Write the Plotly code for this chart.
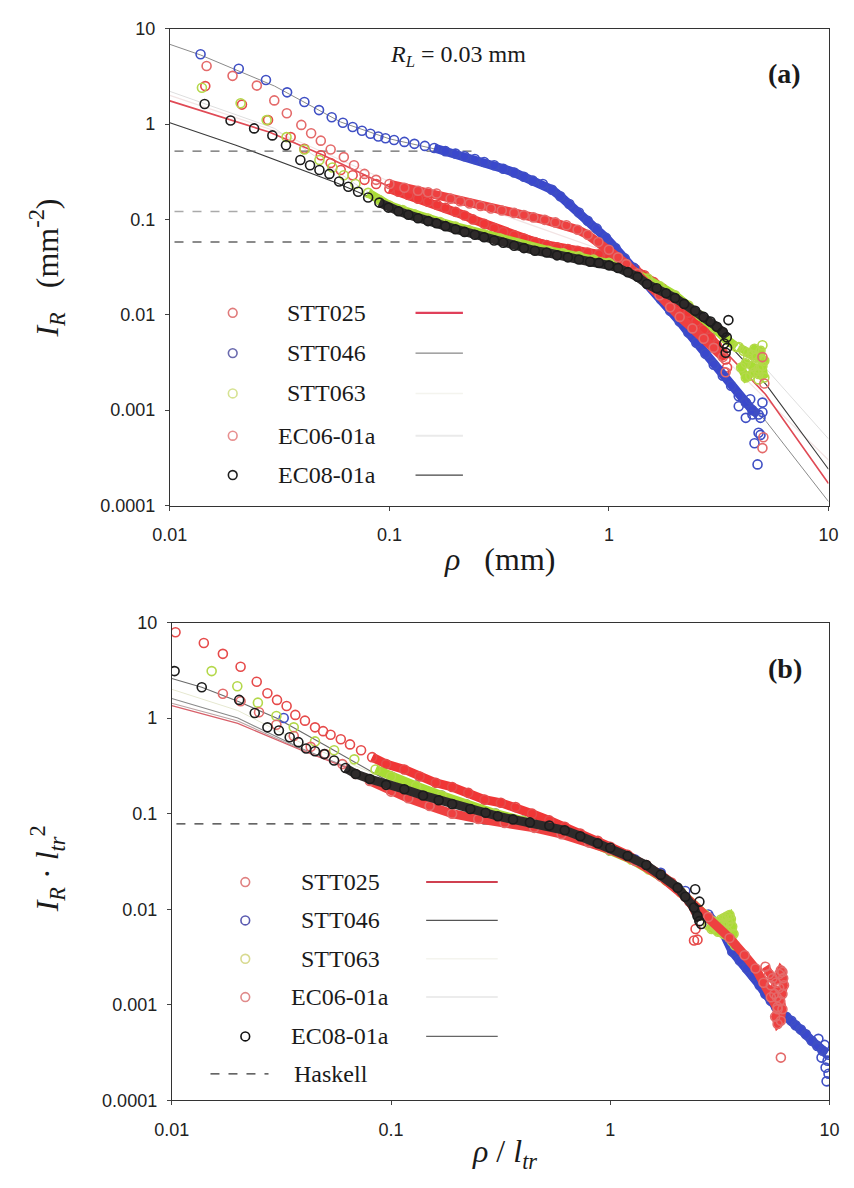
import plotly.graph_objects as go

W, H = 854, 1188

# ================= Panel (a): I_R (mm^-2) vs rho (mm) =================
a_stt025_x = [0.0145, 0.0213, 0.028, 0.0355, 0.041, 0.0487, 0.054, 0.06, 0.068, 0.077, 0.087, 0.1, 0.11, 0.122, 0.135, 0.15, 0.165, 0.18, 0.2, 0.22, 0.24, 0.27, 0.3, 0.33, 0.37, 0.41, 0.46, 0.52, 0.58, 0.65, 0.72, 0.8, 0.9, 1.0, 1.1, 1.2, 1.32, 1.45, 1.6, 1.75, 1.9, 2.1, 2.3, 2.5, 2.7, 2.9, 3.1, 3.3, 3.4]
a_stt025_y = [2.5, 1.6, 1.1, 0.73, 0.55, 0.47, 0.39, 0.33, 0.29, 0.26, 0.235, 0.21, 0.195, 0.18, 0.165, 0.153, 0.142, 0.132, 0.12, 0.11, 0.1, 0.09, 0.081, 0.074, 0.068, 0.063, 0.058, 0.054, 0.051, 0.049, 0.047, 0.045, 0.043, 0.041, 0.038, 0.034, 0.03, 0.026, 0.022, 0.019, 0.016, 0.013, 0.0105, 0.0085, 0.007, 0.0058, 0.0048, 0.004, 0.0034]
a_stt025_ex = [3.35, 3.45]
a_stt025_ey = [0.0025, 0.0028]

a_stt046_x = [0.0138, 0.0206, 0.0274, 0.0342, 0.041, 0.0478, 0.0546, 0.0614, 0.068, 0.075, 0.082, 0.089, 0.096, 0.105, 0.117, 0.13, 0.145, 0.16, 0.18, 0.2, 0.22, 0.245, 0.27, 0.3, 0.33, 0.37, 0.41, 0.45, 0.5, 0.55, 0.6, 0.66, 0.73, 0.8, 0.88, 0.97, 1.07, 1.18, 1.3, 1.43, 1.57, 1.73, 1.9, 2.1, 2.3, 2.5, 2.75, 3.0, 3.3, 3.6, 3.9, 4.2, 4.5, 4.8]
a_stt046_y = [5.4, 3.8, 2.9, 2.15, 1.7, 1.4, 1.18, 1.03, 0.93, 0.85, 0.79, 0.74, 0.71, 0.68, 0.65, 0.62, 0.59, 0.56, 0.52, 0.49, 0.46, 0.43, 0.40, 0.37, 0.34, 0.31, 0.28, 0.255, 0.235, 0.205, 0.175, 0.145, 0.118, 0.097, 0.08, 0.064, 0.05, 0.039, 0.031, 0.024, 0.019, 0.0145, 0.011, 0.0085, 0.0065, 0.0051, 0.0039, 0.003, 0.0023, 0.0018, 0.0014, 0.0012, 0.001, 0.0009]
a_stt046_ex = [3.9, 4.2, 4.5, 4.9, 4.9, 4.8, 4.6, 4.75, 5.0, 5.0, 4.4]
a_stt046_ey = [0.0011, 0.00083, 0.0009, 0.00083, 0.00055, 0.00058, 0.00045, 0.00027, 0.0012, 0.00095, 0.0013]

a_stt063_x = [0.014, 0.021, 0.0276, 0.034, 0.041, 0.048, 0.055, 0.062, 0.07, 0.08, 0.09, 0.1, 0.115, 0.13, 0.15, 0.17, 0.2, 0.23, 0.27, 0.32, 0.38, 0.45, 0.53, 0.62, 0.73, 0.85, 1.0, 1.15, 1.3, 1.5, 1.7, 2.0, 2.3, 2.6, 3.0, 3.4, 3.8]
a_stt063_y = [2.4, 1.65, 1.1, 0.73, 0.54, 0.42, 0.35, 0.29, 0.235, 0.19, 0.16, 0.14, 0.125, 0.113, 0.102, 0.094, 0.084, 0.077, 0.07, 0.063, 0.056, 0.05, 0.047, 0.044, 0.041, 0.038, 0.035, 0.032, 0.028, 0.024, 0.02, 0.016, 0.0125, 0.0098, 0.0074, 0.0056, 0.0046]
# lime patch at the far end (drawn as a filled cluster)
a_stt063_px = [3.9, 4.1, 4.3, 4.5, 4.7, 4.9, 5.1, 5.0, 4.8, 4.6, 4.4, 4.2, 4.0, 4.2, 4.5, 4.8, 5.1, 4.9, 4.6, 4.3]
a_stt063_py = [0.0046, 0.0042, 0.0040, 0.0038, 0.0036, 0.0034, 0.0033, 0.0029, 0.0027, 0.0025, 0.0023, 0.0022, 0.0028, 0.0031, 0.0029, 0.0024, 0.0022, 0.0042, 0.0044, 0.0035]
a_stt063_ex = [5.0, 4.8]
a_stt063_ey = [0.0048, 0.0021]

a_ec0601_x = [0.0147, 0.0193, 0.0249, 0.0299, 0.0341, 0.0397, 0.044, 0.0487, 0.054, 0.062, 0.069, 0.077, 0.087, 0.1, 0.117, 0.135, 0.15, 0.164, 0.19, 0.21, 0.232, 0.26, 0.29, 0.325, 0.37, 0.41, 0.453, 0.51, 0.57, 0.64, 0.72, 0.8, 0.895, 1.0, 1.1, 1.2, 1.35, 1.5, 1.7, 1.9, 2.1, 2.4, 2.7, 3.0, 3.3]
a_ec0601_y = [4.06, 3.2, 2.53, 1.77, 1.30, 0.98, 0.8, 0.67, 0.54, 0.45, 0.37, 0.30, 0.26, 0.235, 0.215, 0.2, 0.193, 0.187, 0.165, 0.155, 0.147, 0.138, 0.13, 0.124, 0.117, 0.111, 0.105, 0.099, 0.093, 0.087, 0.078, 0.069, 0.058, 0.048, 0.04, 0.034, 0.027, 0.021, 0.016, 0.012, 0.0095, 0.0072, 0.0056, 0.0045, 0.0036]
a_ec0601_ex = [3.4, 5.0, 5.1, 5.05, 5.0]
a_ec0601_ey = [0.0025, 0.0036, 0.0019, 0.00052, 0.0004]

a_ec0801_x = [0.0144, 0.0189, 0.0242, 0.0293, 0.0338, 0.0393, 0.0435, 0.048, 0.0533, 0.059, 0.065, 0.072, 0.08, 0.09, 0.099, 0.11, 0.122, 0.135, 0.15, 0.164, 0.18, 0.2, 0.22, 0.245, 0.27, 0.3, 0.33, 0.37, 0.41, 0.46, 0.52, 0.58, 0.65, 0.73, 0.82, 0.9, 1.0, 1.1, 1.22, 1.35, 1.49, 1.65, 1.82, 2.0, 2.2, 2.47, 2.7, 2.9, 3.1, 3.3, 3.44]
a_ec0801_y = [1.62, 1.09, 0.90, 0.76, 0.60, 0.42, 0.37, 0.33, 0.30, 0.25, 0.22, 0.195, 0.17, 0.15, 0.133, 0.122, 0.112, 0.103, 0.096, 0.091, 0.085, 0.079, 0.074, 0.069, 0.065, 0.06, 0.057, 0.053, 0.05, 0.047, 0.045, 0.042, 0.04, 0.038, 0.036, 0.035, 0.033, 0.031, 0.028, 0.025, 0.021, 0.019, 0.0168, 0.015, 0.013, 0.011, 0.0095, 0.0085, 0.0075, 0.0066, 0.0058]
a_ec0801_ex = [3.5, 3.45, 3.4, 3.35]
a_ec0801_ey = [0.0088, 0.0045, 0.004, 0.005]

# fitted curves (a)
a_fit_stt025_x = [0.01, 0.0285, 0.05, 0.1, 0.3, 1.0, 2.0, 3.0, 5.17, 10]
a_fit_stt025_y = [1.75, 0.82, 0.47, 0.22, 0.085, 0.038, 0.014, 0.0055, 0.00146, 0.00017]
a_fit_stt046_x = [0.01, 0.0138, 0.03, 0.06, 0.1, 0.2, 0.3, 0.5, 0.8, 1.0, 1.5, 2.0, 3.0, 5.2, 10]
a_fit_stt046_y = [6.85, 5.3, 2.5, 1.05, 0.7, 0.49, 0.37, 0.235, 0.097, 0.062, 0.021, 0.0095, 0.0032, 0.00076, 0.00011]
a_fit_stt063_x = [0.01, 0.03, 0.07, 0.1, 0.2, 0.45, 1.0, 2.0, 3.0, 5.0, 10]
a_fit_stt063_y = [2.2, 0.9, 0.235, 0.14, 0.084, 0.05, 0.035, 0.016, 0.0074, 0.003, 0.0005]
a_fit_ec0601_x = [0.01, 0.03, 0.1, 0.3, 1.0, 3.0, 10]
a_fit_ec0601_y = [2.0, 0.85, 0.25, 0.12, 0.045, 0.0045, 0.0003]
a_fit_ec0801_x = [0.01, 0.02, 0.058, 0.1, 0.3, 1.0, 2.0, 3.0, 5.2, 10]
a_fit_ec0801_y = [1.03, 0.6, 0.24, 0.14, 0.06, 0.034, 0.015, 0.0072, 0.00185, 0.00024]

# Haskell (a)
a_hask1_x = [0.0105, 0.26]
a_hask1_y = [0.52, 0.52]
a_hask2_x = [0.0105, 0.10]
a_hask2_y = [0.121, 0.121]
a_hask3_x = [0.0105, 0.24]
a_hask3_y = [0.058, 0.058]

# ================= Panel (b): I_R * l_tr^2 vs rho / l_tr =================
b_stt025_x = [0.0104, 0.014, 0.0171, 0.0206, 0.0244, 0.0273, 0.0302, 0.0334, 0.0366, 0.0405, 0.045, 0.049, 0.053, 0.059, 0.065, 0.073, 0.082, 0.095, 0.115, 0.135, 0.16, 0.19, 0.225, 0.267, 0.317, 0.37, 0.44, 0.527, 0.62, 0.73, 0.877, 1.0, 1.2, 1.46, 1.7, 1.9, 2.1, 2.3, 2.45]
b_stt025_y = [7.9, 6.1, 4.7, 3.45, 2.4, 1.82, 1.55, 1.34, 1.08, 0.94, 0.80, 0.73, 0.67, 0.6, 0.53, 0.46, 0.39, 0.33, 0.29, 0.245, 0.21, 0.19, 0.165, 0.14, 0.13, 0.117, 0.1, 0.085, 0.073, 0.062, 0.052, 0.045, 0.037, 0.029, 0.023, 0.019, 0.015, 0.012, 0.0095]
b_stt025_ex = [2.41, 2.5, 2.45]
b_stt025_ey = [0.0047, 0.0048, 0.0062]

b_stt046_x = [0.0324, 0.1, 0.13, 0.17, 0.22, 0.3, 0.4, 0.55, 0.75, 1.0, 1.3, 1.7, 2.2, 2.8, 3.3, 3.6, 3.9, 4.2, 4.5, 4.8, 5.1, 5.4, 5.7, 6.0, 6.35, 6.7, 7.0, 7.4, 7.8, 8.3, 8.8, 9.3, 9.7]
b_stt046_y = [1.0, 0.245, 0.195, 0.155, 0.125, 0.1, 0.084, 0.068, 0.054, 0.041, 0.033, 0.024, 0.0155, 0.0088, 0.0055, 0.0036, 0.0029, 0.0024, 0.002, 0.0016, 0.0013, 0.0011, 0.00095, 0.00082, 0.00075, 0.00068, 0.00061, 0.00055, 0.00049, 0.00042, 0.00037, 0.00033, 0.00031]
b_stt046_ex = [9.8, 9.6, 9.9, 9.7, 9.2, 9.5, 8.9, 9.9]
b_stt046_ey = [0.00026, 0.00022, 0.00019, 0.000158, 0.00028, 0.00038, 0.00044, 0.0003]

b_stt063_x = [0.0152, 0.0199, 0.0247, 0.03, 0.036, 0.045, 0.055, 0.068, 0.085, 0.1, 0.13, 0.17, 0.22, 0.3, 0.4, 0.55, 0.75, 1.0, 1.25, 1.5, 1.8, 2.1, 2.4, 2.7]
b_stt063_y = [3.1, 2.15, 1.45, 1.05, 0.8, 0.57, 0.46, 0.37, 0.29, 0.245, 0.195, 0.155, 0.125, 0.1, 0.084, 0.068, 0.054, 0.041, 0.033, 0.026, 0.02, 0.015, 0.011, 0.0088]
# lime patch
b_stt063_px = [2.75, 2.9, 3.0, 3.1, 3.2, 3.3, 3.4, 3.5, 3.55, 3.6, 3.65, 3.5, 3.3, 3.1, 2.9, 2.8, 3.0, 3.2, 3.4, 3.6, 3.45, 3.25, 3.05]
b_stt063_py = [0.0082, 0.0076, 0.0072, 0.0074, 0.0078, 0.0081, 0.0084, 0.0087, 0.0079, 0.0066, 0.0055, 0.005, 0.0055, 0.0058, 0.0062, 0.0068, 0.0065, 0.0063, 0.006, 0.0046, 0.0072, 0.0069, 0.0066]
b_stt063_ex = [3.7]
b_stt063_ey = [0.0042]

b_ec0601_x = [0.0171, 0.0206, 0.025, 0.03, 0.036, 0.043, 0.05, 0.06, 0.069, 0.08, 0.1, 0.12, 0.15, 0.19, 0.25, 0.33, 0.45, 0.6, 0.8, 1.0, 1.3, 1.7, 2.2, 2.8, 3.5, 4.1, 4.6, 5.0, 5.4, 5.8]
b_ec0601_y = [1.8, 1.5, 1.15, 0.85, 0.65, 0.5, 0.42, 0.33, 0.26, 0.22, 0.17, 0.145, 0.12, 0.1, 0.088, 0.08, 0.071, 0.061, 0.05, 0.042, 0.032, 0.022, 0.0135, 0.0083, 0.005, 0.0033, 0.0024, 0.0017, 0.0012, 0.0009]
# red cluster near rho/l_tr ~ 5-6
b_ec0601_px = [5.1, 5.3, 5.5, 5.7, 5.9, 6.0, 6.1, 6.15, 6.2, 6.1, 5.95, 5.8, 5.65, 5.8, 6.0, 6.1, 5.9, 5.6, 5.4, 5.75]
b_ec0601_py = [0.0025, 0.0021, 0.0019, 0.0017, 0.0021, 0.0023, 0.0022, 0.0019, 0.0016, 0.0013, 0.0011, 0.00095, 0.00075, 0.00063, 0.00068, 0.0009, 0.0015, 0.0013, 0.0016, 0.0012]
b_ec0601_ex = [6.0]
b_ec0601_ey = [0.00028]

b_ec0801_x = [0.0103, 0.0137, 0.0203, 0.0239, 0.0273, 0.0308, 0.0345, 0.0378, 0.041, 0.045, 0.0496, 0.055, 0.062, 0.069, 0.08, 0.095, 0.115, 0.14, 0.165, 0.19, 0.23, 0.27, 0.307, 0.36, 0.43, 0.527, 0.62, 0.73, 0.877, 1.0, 1.2, 1.46, 1.7, 2.03, 2.2, 2.41, 2.55]
b_ec0801_y = [3.1, 2.1, 1.55, 1.13, 0.80, 0.74, 0.63, 0.56, 0.48, 0.45, 0.42, 0.36, 0.3, 0.26, 0.23, 0.2, 0.18, 0.155, 0.138, 0.126, 0.112, 0.102, 0.094, 0.087, 0.081, 0.075, 0.067, 0.058, 0.049, 0.044, 0.036, 0.029, 0.023, 0.0168, 0.0135, 0.0104, 0.0075]
b_ec0801_ex = [2.44, 2.5, 2.55, 2.6]
b_ec0801_ey = [0.0162, 0.0085, 0.012, 0.007]

# fitted curves (b)
b_fit_x = [0.01, 0.02, 0.039, 0.1, 0.3, 1.0, 2.0]
b_fit_stt025_y = [1.35, 0.88, 0.46, 0.2, 0.095, 0.043, 0.016]
b_fit_stt046_y = [1.6, 1.0, 0.48, 0.2, 0.095, 0.043, 0.016]
b_fit_stt063_y = [2.0, 1.2, 0.55, 0.22, 0.1, 0.043, 0.016]
b_fit_ec0601_y = [1.43, 0.93, 0.47, 0.2, 0.095, 0.043, 0.016]
b_fit_ec0801_x = [0.01, 0.0137, 0.02, 0.03, 0.05, 0.1, 0.3, 1.0, 2.0]
b_fit_ec0801_y = [2.6, 2.1, 1.5, 1.0, 0.52, 0.21, 0.095, 0.043, 0.016]

b_hask_x = [0.0105, 0.33]
b_hask_y = [0.078, 0.078]

# ---- labels ----
series_names = ["STT025", "STT046", "STT063", "EC06-01a", "EC08-01a"]
x_tickvals = [0.01, 0.1, 1, 10]
x_ticktext = ["0.01", "0.1", "1", "10"]
y_tickvals = [0.0001, 0.001, 0.01, 0.1, 1, 10]
y_ticktext = ["0.0001", "0.001", "0.01", "0.1", "1", "10"]

# ---- styles ----
mark_col = {"STT025": "#e64a4a", "STT046": "#3f4fc4", "STT063": "#b4d84a",
            "EC06-01a": "#e46a6a", "EC08-01a": "#1c1c1c"}
band_col = {"STT025": "#f03636", "STT046": "#3a48cc", "STT063": "#a8dc34",
            "EC06-01a": "#ee4040", "EC08-01a": "#2e2a2a"}

fig = go.Figure()


def add_series(name, xs, ys, ex, ey, band_from, xa, ya, px=None, py=None):
    bx = [x for x in xs if x >= band_from]
    by = [y for x, y in zip(xs, ys) if x >= band_from]
    fig.add_trace(go.Scatter(x=bx, y=by, mode="lines", xaxis=xa, yaxis=ya,
                             line=dict(color=band_col[name], width=9),
                             showlegend=False, hoverinfo="skip"))
    allx, ally = xs + ex, ys + ey
    if px:
        fig.add_trace(go.Scatter(x=px, y=py, mode="lines", xaxis=xa, yaxis=ya,
                                 line=dict(color=band_col[name], width=8),
                                 showlegend=False, hoverinfo="skip"))
        allx, ally = allx + px, ally + py
    fig.add_trace(go.Scatter(x=allx, y=ally, mode="markers", xaxis=xa, yaxis=ya,
                             marker=dict(symbol="circle-open", size=9, color=mark_col[name],
                                         line=dict(width=1.6)),
                             showlegend=False, name=name))


def add_line(xs, ys, color, width, xa, ya, dash="solid"):
    fig.add_trace(go.Scatter(x=xs, y=ys, mode="lines", xaxis=xa, yaxis=ya,
                             line=dict(color=color, width=width, dash=dash),
                             showlegend=False, hoverinfo="skip"))


# ---- panel (a) ----
add_line(a_fit_ec0601_x, a_fit_ec0601_y, "#f2e4e4", 1.2, "x", "y")
add_line(a_fit_stt063_x, a_fit_stt063_y, "#dedede", 1.0, "x", "y")
add_line(a_fit_stt046_x, a_fit_stt046_y, "#8a8a8a", 1.0, "x", "y")
add_line(a_fit_stt025_x, a_fit_stt025_y, "#e04a55", 1.6, "x", "y")
add_line(a_fit_ec0801_x, a_fit_ec0801_y, "#3a3a3a", 1.1, "x", "y")
add_line(a_hask1_x, a_hask1_y, "#666666", 1.3, "x", "y", "dash")
add_line(a_hask2_x, a_hask2_y, "#aaaaaa", 1.3, "x", "y", "dash")
add_line(a_hask3_x, a_hask3_y, "#666666", 1.3, "x", "y", "dash")

add_series("STT025", a_stt025_x, a_stt025_y, a_stt025_ex, a_stt025_ey, 0.1, "x", "y")
add_series("STT046", a_stt046_x, a_stt046_y, a_stt046_ex, a_stt046_ey, 0.16, "x", "y")
add_series("STT063", a_stt063_x, a_stt063_y, a_stt063_ex, a_stt063_ey, 0.08, "x", "y",
           a_stt063_px, a_stt063_py)
add_series("EC06-01a", a_ec0601_x, a_ec0601_y, a_ec0601_ex, a_ec0601_ey, 0.1, "x", "y")
add_series("EC08-01a", a_ec0801_x, a_ec0801_y, a_ec0801_ex, a_ec0801_ey, 0.09, "x", "y")

# ---- panel (b) ----
add_line(b_fit_x, b_fit_stt063_y, "#e6e8d0", 1.0, "x2", "y2")
add_line(b_fit_x, b_fit_stt046_y, "#8a8a8a", 1.1, "x2", "y2")
add_line(b_fit_x, b_fit_ec0601_y, "#b8a4a4", 1.1, "x2", "y2")
add_line(b_fit_x, b_fit_stt025_y, "#d8606a", 1.2, "x2", "y2")
add_line(b_fit_ec0801_x, b_fit_ec0801_y, "#6a6a6a", 1.1, "x2", "y2")
add_line(b_hask_x, b_hask_y, "#333333", 1.3, "x2", "y2", "dash")

add_series("STT025", b_stt025_x, b_stt025_y, b_stt025_ex, b_stt025_ey, 0.08, "x2", "y2")
add_series("STT046", b_stt046_x, b_stt046_y, b_stt046_ex, b_stt046_ey, 2.5, "x2", "y2")
add_series("STT063", b_stt063_x, b_stt063_y, b_stt063_ex, b_stt063_ey, 0.07, "x2", "y2",
           b_stt063_px, b_stt063_py)
add_series("EC06-01a", b_ec0601_x, b_ec0601_y, b_ec0601_ex, b_ec0601_ey, 0.07, "x2", "y2",
           b_ec0601_px, b_ec0601_py)
add_series("EC08-01a", b_ec0801_x, b_ec0801_y, b_ec0801_ex, b_ec0801_ey, 0.06, "x2", "y2")


def PX(p):
    return p / W


def PY(p):
    return 1 - p / H


tickfont = dict(family="Liberation Sans, Arial, sans-serif", size=18, color="#222")
axis_common = dict(type="log", showgrid=False, zeroline=False, showline=True,
                   linecolor="#333", linewidth=1, mirror=True, ticks="outside",
                   ticklen=4, tickcolor="#444", tickfont=tickfont)

fig.update_layout(
    width=W, height=H, autosize=False,
    margin=dict(l=0, r=0, t=0, b=0),
    paper_bgcolor="white", plot_bgcolor="white",
    showlegend=False,
    xaxis=dict(domain=[157 / W, 838 / W], range=[-2, 1], anchor="y",
               tickvals=x_tickvals, ticktext=x_ticktext, ticklabelstandoff=9, **axis_common),
    yaxis=dict(domain=[PY(504), PY(19)], range=[-4, 1], anchor="x",
               tickvals=y_tickvals, ticktext=y_ticktext, ticklabelstandoff=6, **axis_common),
    xaxis2=dict(domain=[159 / W, 839 / W], range=[-2, 1], anchor="y2",
                tickvals=x_tickvals, ticktext=x_ticktext, ticklabelstandoff=9, **axis_common),
    yaxis2=dict(domain=[PY(1109), PY(623)], range=[-4, 1], anchor="x2",
                tickvals=y_tickvals, ticktext=y_ticktext, ticklabelstandoff=6, **axis_common),
)

serif = "Liberation Serif, Times New Roman, serif"
ann = []


def text(px, py, s, size, xanchor="center", angle=0):
    ann.append(dict(x=PX(px), y=PY(py), xref="paper", yref="paper", text=s,
                    showarrow=False, xanchor=xanchor, yanchor="middle", textangle=angle,
                    font=dict(family=serif, size=size, color="#1a1a1a")))


# titles and labels
text(498, 558, "<i>ρ</i>\u2002 (mm)", 32)
text(30, 263, "<i>I<sub>R</sub></i>\u2002 (mm<sup>-2</sup>)", 32, angle=-90)
text(503, 1163, "<i>ρ</i> / <i>l<sub>tr</sub></i>", 32)
text(30, 874, "<i>I<sub>R</sub></i> · <i>l<sub>tr</sub></i><sup>2</sup>", 32, angle=-90)
text(455, 47, "<i>R<sub>L</sub></i> = 0.03 mm", 24)
text(792, 65, "<b>(a)</b>", 28)
text(793, 670, "<b>(b)</b>", 28)

shapes = []


def circle(cx, cy, color):
    r = 4.5
    shapes.append(dict(type="circle", xref="paper", yref="paper",
                       x0=PX(cx - r), x1=PX(cx + r), y0=PY(cy + r), y1=PY(cy - r),
                       line=dict(color=color, width=1.6)))


def hline(x0, x1, y, color, width, dash="solid"):
    shapes.append(dict(type="line", xref="paper", yref="paper",
                       x0=PX(x0), x1=PX(x1), y0=PY(y), y1=PY(y),
                       line=dict(color=color, width=width, dash=dash)))


# legend (a)
leg_a_rows = [308, 349, 390, 433, 473]
leg_a_circ = ["#e07a7a", "#6a6aae", "#d6e292", "#e89090", "#202020"]
leg_a_line = [("#e0405a", 2.2), ("#6a6a6a", 1.0), ("#f4f4ee", 1.5), ("#eaeaea", 2.0), ("#444444", 1.2)]
for name, yy, cc, (lc, lw) in zip(series_names, leg_a_rows, leg_a_circ, leg_a_line):
    circle(222, yy, cc)
    text(319, yy, name, 24)
    hline(411, 460, yy, lc, lw)

# legend (b)
leg_b_rows = [887, 926, 965, 1004, 1044]
leg_b_circ = ["#e08080", "#5a5ab0", "#d8da90", "#e08a8a", "#111111"]
leg_b_line = [("#d04050", 2.0), ("#555555", 1.3), ("#f4f4ee", 1.5), ("#ececec", 2.0), ("#666666", 1.2)]
for name, yy, cc, (lc, lw) in zip(series_names, leg_b_rows, leg_b_circ, leg_b_line):
    circle(235, yy, cc)
    text(333, yy, name, 24)
    hline(422, 496, yy, lc, lw)
hline(199, 259, 1082, "#333333", 1.3, "dash")
text(283, 1082, "Haskell", 24, xanchor="left")

fig.update_layout(annotations=ann, shapes=shapes)

fig.write_html("out.html", config={"displayModeBar": False},
               post_script="document.body.style.margin='0px';document.body.style.overflow='hidden';")
